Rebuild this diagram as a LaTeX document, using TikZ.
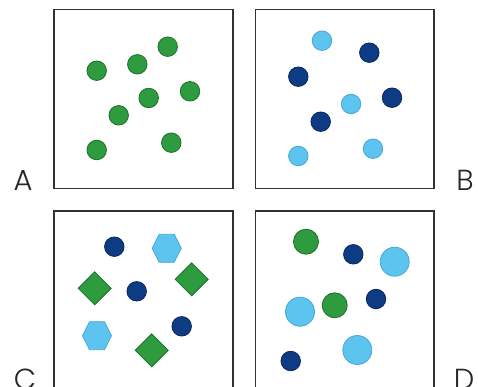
\documentclass[tikz,border=0pt]{standalone}
\usepackage{fontspec}
\newfontfamily\lblfont{Poppins Light}
\usetikzlibrary{shapes.geometric}
\definecolor{gfill}{RGB}{46,155,62}
\definecolor{gline}{RGB}{28,112,42}
\definecolor{nfill}{RGB}{14,60,132}
\definecolor{nline}{RGB}{8,40,92}
\definecolor{lfill}{RGB}{92,196,238}
\definecolor{lline}{RGB}{70,168,214}
\definecolor{boxc}{RGB}{50,50,50}
\tikzset{
  panel/.style={draw=boxc, line width=1.2pt, fill=white},
  dot/.style={circle, inner sep=0pt, line width=0.8pt},
  gdot/.style={dot, fill=gfill, draw=gline, minimum size=19.5pt},
  ndot/.style={dot, fill=nfill, draw=nline, minimum size=19.5pt},
  ldot/.style={dot, fill=lfill, draw=lline, minimum size=19.5pt},
  gdia/.style={regular polygon, regular polygon sides=4, shape border rotate=45, inner sep=0pt, minimum size=33pt, fill=gfill, draw=gline, line width=0.8pt},
  lhex/.style={fill=lfill, draw=lline, line width=0.8pt},
  lbl/.style={font=\lblfont\fontsize{29}{29}\selectfont, text=black!85, inner sep=0pt}
}
\begin{document}
\begin{tikzpicture}[x=1pt,y=-1pt]
\useasboundingbox (0,0) rectangle (478,387);
\fill[white] (0,0) rectangle (478,387);
% panels
\draw[panel] (54,9.5) rectangle (233,188.5);
\draw[panel] (255.5,9.5) rectangle (434,188.5);
\draw[panel] (54,211) rectangle (233,390);
\draw[panel] (255.5,211) rectangle (434,390);
% labels
\node[lbl] (la) at (23,180) {A};
\node[lbl] (lb) at (465,180) {B};
\node[lbl] (lc) at (25,379) {C};
\node[lbl] (ld) at (464,379) {D};
% panel A
\node[gdot] (a1) at (96.7,70.7) {};
\node[gdot] (a2) at (137.3,64.3) {};
\node[gdot] (a3) at (167.7,46.7) {};
\node[gdot] (a4) at (190,91.3) {};
\node[gdot] (a5) at (148.7,98) {};
\node[gdot] (a6) at (118.7,115.3) {};
\node[gdot] (a7) at (96.7,150) {};
\node[gdot] (a8) at (171.3,142.7) {};
% panel B
\node[ldot] (b1) at (322,40.7) {};
\node[ndot] (b2) at (369.3,52.7) {};
\node[ndot] (b3) at (298.3,76.7) {};
\node[ldot] (b4) at (351,104) {};
\node[ndot] (b5) at (392,97.7) {};
\node[ndot] (b6) at (320.7,121.7) {};
\node[ldot] (b7) at (373,148.7) {};
\node[ldot] (b8) at (298.3,156) {};
% panel C
\node[ndot] (c1) at (114.3,246.7) {};
\draw[lhex] (166.7,248.3) ++(-14.5,0) -- ++(7,-14) -- ++(15,0) -- ++(7,14) -- ++(-7,14) -- ++(-15,0) -- cycle;
\node[gdia] (c3) at (94.7,288.3) {};
\node[ndot] (c4) at (136.7,291.3) {};
\node[gdia] (c5) at (191.7,279.3) {};
\draw[lhex] (97,335.7) ++(-14.5,0) -- ++(7,-14) -- ++(15,0) -- ++(7,14) -- ++(-7,14) -- ++(-15,0) -- cycle;
\node[ndot] (c7) at (181.7,326.3) {};
\node[gdia] (c8) at (151.7,350.3) {};
% panel D
\node[gdot, minimum size=25pt] (d1) at (306,241.7) {};
\node[ndot] (d2) at (353.3,254.3) {};
\node[ldot, minimum size=29pt] (d3) at (394.7,261.7) {};
\node[ldot, minimum size=29pt] (d4) at (300,311.7) {};
\node[gdot, minimum size=25pt] (d5) at (334.7,305.3) {};
\node[ndot] (d6) at (376,299) {};
\node[ldot, minimum size=29pt] (d7) at (357.3,350) {};
\node[ndot] (d8) at (290.7,361) {};
\end{tikzpicture}
\end{document}
